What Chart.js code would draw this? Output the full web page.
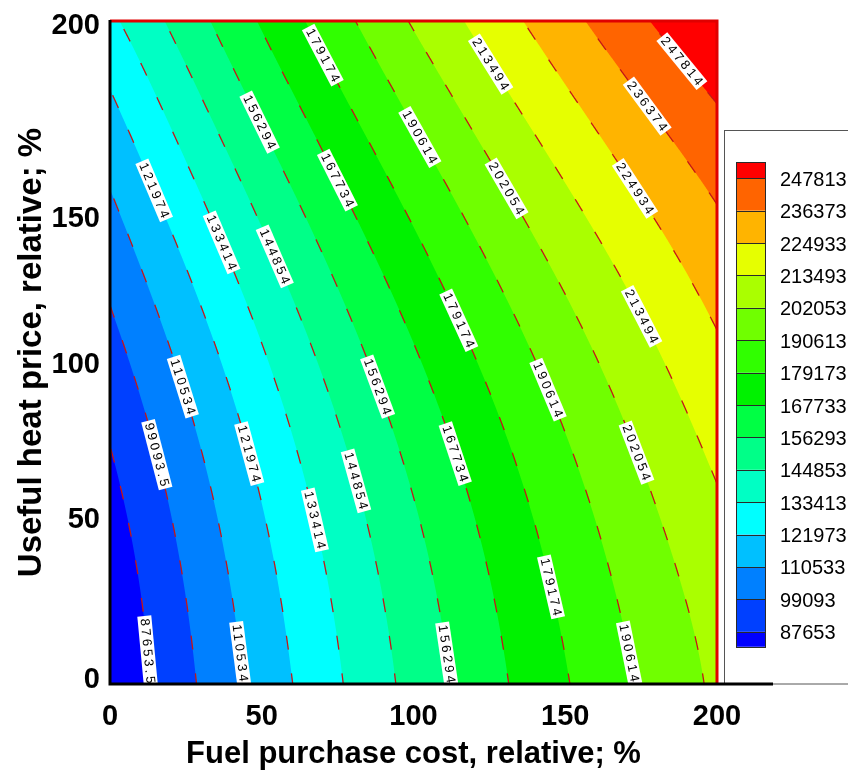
<!DOCTYPE html>
<html>
<head>
<meta charset="utf-8">
<script src="https://cdn.jsdelivr.net/npm/chart.js@4.4.1/dist/chart.umd.min.js"></script>
<style>
  html, body { margin: 0; padding: 0; background: #ffffff; }
  #wrap { width: 848px; height: 778px; }
</style>
</head>
<body>
<div id="wrap"><canvas id="chart" width="848" height="778"></canvas></div>
<script>
// Grid of the response surface: fuel purchase cost (x) and useful heat price (y), both in % of base
const fuelCost = [0, 50, 100, 150, 200];
const heatPrice = [0, 50, 100, 150, 200];

// Objective value at each grid node; one row per heat price, columns follow fuelCost
const valueRows = [
  [77500, 114756, 148582, 178320, 204100],
  [83000, 121167, 155100, 185224, 211300],
  [94950, 132607, 166889, 196844, 223100],
  [110800, 149299, 183584, 213085, 238200],
  [131000, 168892, 203149, 232729, 259700]
];

// Contour levels (low to high)
const contourLevels = [
  87653.5, 99093.5, 110533.5, 121973.5, 133413.5, 144853.5, 156293.5, 167733.5,
  179173.5, 190613.5, 202053.5, 213493.5, 224933.5, 236373.5, 247813.5
];

// Fill colour of each band, from below the first level to above the last one
const bandColors = [
  '#0000ff', '#0040ff', '#0080ff', '#00c0ff', '#00ffff', '#00ffc4', '#00ff88', '#00ff44',
  '#00f200', '#30ff00', '#70ff00', '#aaff00', '#e6ff00', '#ffb400', '#ff6400', '#ff0000'
];

// Axis ticks
const xTickValues = [0, 50, 100, 150, 200];
const xTickLabels = ['0', '50', '100', '150', '200'];
const yTickValues = [1.2, 49.5, 96.2, 140.3, 198.5];
const yTickLabels = ['0', '50', '100', '150', '200'];

// Inline contour labels: [level index, fuel cost, heat price]
const contourLabelSpots = [
  [8, 70.5, 189.7], [11, 125.5, 187.0], [14, 187.1, 187.9],
  [6, 50.1, 169.5], [9, 103.5, 165.0], [13, 175.9, 174.3],
  [3, 14.5, 148.9], [7, 76.4, 152.0], [10, 131.5, 149.5], [12, 172.7, 149.5],
  [4, 37.9, 133.2], [5, 57.0, 129.0],
  [8, 115.7, 109.7], [11, 175.0, 110.9],
  [2, 24.1, 89.7], [6, 88.0, 89.7], [9, 144.3, 88.8],
  [1, 15.5, 69.2], [3, 45.8, 69.5], [7, 113.7, 69.5], [10, 173.6, 69.8],
  [4, 67.2, 49.5], [5, 80.4, 61.3], [8, 145.3, 29.3],
  [0, 13.5, 10.0], [2, 43.5, 9.4], [6, 111.0, 9.1], [9, 171.0, 9.4]
];

const FONT = "'Liberation Sans', Arial, Helvetica, sans-serif";

// ---- surface evaluation (tensor-product Lagrange through the grid nodes) ----
function basis(nodes, t) {
  const out = [];
  for (let i = 0; i < nodes.length; i++) {
    let p = 1;
    for (let j = 0; j < nodes.length; j++) {
      if (j !== i) p *= (t - nodes[j]) / (nodes[i] - nodes[j]);
    }
    out.push(p);
  }
  return out;
}
function rowAt(y) {
  const w = basis(heatPrice, y);
  return fuelCost.map((_, i) => valueRows.reduce((s, r, j) => s + r[i] * w[j], 0));
}
function evalRow(row, x) {
  const w = basis(fuelCost, x);
  return row.reduce((s, v, i) => s + v * w[i], 0);
}
// Where the level crosses a horizontal line y (value rises with x)
function crossing(level, y) {
  const row = rowAt(y);
  const x0 = fuelCost[0], x1 = fuelCost[fuelCost.length - 1];
  if (evalRow(row, x0) >= level) return { x: x0, edge: -1, y };
  if (evalRow(row, x1) < level) return { x: x1, edge: 1, y };
  let lo = x0, hi = x1;
  for (let n = 0; n < 40; n++) {
    const m = (lo + hi) / 2;
    if (evalRow(row, m) < level) lo = m; else hi = m;
  }
  return { x: (lo + hi) / 2, edge: 0, y };
}

const heatSamples = [];
for (let i = 0; i <= 808; i++) heatSamples.push(-1 + i * 0.25);
const crossings = contourLevels.map(L => heatSamples.map(y => crossing(L, y)));

// ---- filled bands ----
const bandFill = {
  id: 'bandFill',
  beforeDatasetsDraw(chart) {
    const { ctx, chartArea: a, scales: { x: sx, y: sy } } = chart;
    ctx.save();
    ctx.beginPath();
    ctx.rect(a.left, a.top, a.right - a.left, a.bottom - a.top);
    ctx.clip();
    ctx.fillStyle = bandColors[0];
    ctx.fillRect(a.left, a.top, a.right - a.left, a.bottom - a.top);
    crossings.forEach((pts, k) => {
      ctx.beginPath();
      pts.forEach((c, i) => {
        const xv = c.edge < 0 ? -3 : c.edge > 0 ? 203 : c.x;
        const px = sx.getPixelForValue(xv), py = sy.getPixelForValue(c.y);
        if (i === 0) ctx.moveTo(px, py); else ctx.lineTo(px, py);
      });
      ctx.lineTo(sx.getPixelForValue(203), sy.getPixelForValue(201));
      ctx.lineTo(sx.getPixelForValue(203), sy.getPixelForValue(-1));
      ctx.closePath();
      ctx.fillStyle = bandColors[k + 1];
      ctx.fill();
    });
    ctx.restore();
  }
};

// ---- inline value labels on the contour lines ----
const contourLabels = {
  id: 'contourLabels',
  afterDatasetsDraw(chart) {
    const { ctx, chartArea: a, scales: { x: sx, y: sy } } = chart;
    ctx.save();
    ctx.beginPath();
    ctx.rect(a.left, a.top, a.right - a.left, a.bottom - a.top);
    ctx.clip();
    ctx.font = '13px ' + FONT;
    ctx.letterSpacing = '3px';
    ctx.textAlign = 'center';
    ctx.textBaseline = 'middle';
    contourLabelSpots.forEach(([k, gx, gy]) => {
      const L = contourLevels[k];
      const c = crossing(L, gy);
      if (c.edge !== 0) return;
      const up = crossing(L, gy + 3), dn = crossing(L, gy - 3);
      const px = sx.getPixelForValue(c.x), py = sy.getPixelForValue(gy);
      const ang = Math.atan2(sy.getPixelForValue(gy - 3) - sy.getPixelForValue(gy + 3),
                             sx.getPixelForValue(dn.x) - sx.getPixelForValue(up.x));
      const txt = L.toPrecision(6);
      const w = ctx.measureText(txt).width;
      ctx.save();
      ctx.translate(px, py);
      ctx.rotate(ang);
      ctx.fillStyle = '#ffffff';
      ctx.fillRect(-w / 2 - 1, -7, w + 2, 14);
      ctx.fillStyle = '#000000';
      ctx.fillText(txt, 1.5, 0.5);
      ctx.restore();
    });
    ctx.restore();
  }
};

// ---- frame, extended base line and level legend ----
const frameAndLegend = {
  id: 'frameAndLegend',
  afterDraw(chart) {
    const { ctx, chartArea: a } = chart;
    ctx.save();

    // legend panel
    const lgLeft = a.right + 7.5, lgTop = 130.5;
    ctx.strokeStyle = '#555555';
    ctx.lineWidth = 1;
    ctx.strokeRect(lgLeft, lgTop, 300, a.bottom - lgTop);

    const swLeft = a.right + 19.5, swW = 29;
    const firstEdge = 178.3, rowH = 32.39;
    const n = contourLevels.length;
    for (let b = 0; b <= n; b++) {
      // b = 0 is the top band (highest)
      const band = n - b;
      const top = b === 0 ? firstEdge - rowH / 2 : firstEdge + (b - 1) * rowH;
      const bot = b === n ? firstEdge + (n - 1) * rowH + 15 : firstEdge + b * rowH;
      ctx.fillStyle = bandColors[band];
      ctx.fillRect(swLeft, top, swW, bot - top);
      ctx.strokeStyle = '#2a2a2a';
      ctx.strokeRect(swLeft, Math.round(top) + 0.5, swW, Math.round(bot) - Math.round(top));
    }
    ctx.fillStyle = '#000000';
    ctx.font = '20px ' + FONT;
    ctx.textAlign = 'left';
    ctx.textBaseline = 'middle';
    for (let i = 0; i < n; i++) {
      const level = contourLevels[n - 1 - i];
      ctx.fillText(String(Math.floor(level)), a.right + 63, firstEdge + i * rowH + 2);
    }

    // plot frame: red top and right, black axes on the left and bottom
    ctx.lineWidth = 3;
    ctx.strokeStyle = '#e00000';
    ctx.beginPath();
    ctx.moveTo(a.left, a.top);
    ctx.lineTo(a.right, a.top);
    ctx.lineTo(a.right, a.bottom);
    ctx.stroke();
    ctx.strokeStyle = '#000000';
    ctx.beginPath();
    ctx.moveTo(a.left, a.top - 1);
    ctx.lineTo(a.left, a.bottom);
    ctx.lineTo(a.right + 56, a.bottom);
    ctx.stroke();
    ctx.restore();
  }
};

const lineDatasets = crossings.map((pts, k) => ({
  label: String(contourLevels[k]),
  data: pts.filter(c => c.edge === 0).map(c => ({ x: c.x, y: c.y })),
  showLine: true,
  fill: false,
  borderColor: '#c41616',
  borderWidth: 1.3,
  borderDash: [14, 24],
  pointRadius: 0,
  tension: 0
}));

new Chart(document.getElementById('chart'), {
  type: 'scatter',
  data: { datasets: lineDatasets },
  options: {
    responsive: false,
    animation: false,
    events: [],
    layout: { padding: { left: 0, top: 21, right: 131, bottom: 0 } },
    plugins: { legend: { display: false }, tooltip: { enabled: false } },
    scales: {
      x: {
        type: 'linear', min: 0, max: 200,
        afterBuildTicks: s => { s.ticks = xTickValues.map(v => ({ value: v })); },
        afterFit: s => { s.height = 94; s.paddingLeft = 0; s.paddingRight = 0; },
        grid: { display: false, drawTicks: false },
        border: { display: false },
        ticks: {
          callback: (v, i) => xTickLabels[i],
          autoSkip: false, maxRotation: 0, padding: 16,
          color: '#000000', font: { family: FONT, size: 29, weight: 'bold' }
        },
        title: {
          display: true, text: 'Fuel purchase cost, relative; %', color: '#000000',
          font: { family: FONT, size: 31, weight: 'bold' }, padding: { top: 0, bottom: 5 }
        }
      },
      y: {
        type: 'linear', min: 0, max: 200,
        afterBuildTicks: s => { s.ticks = yTickValues.map(v => ({ value: v })); },
        afterFit: s => { s.width = 110; s.paddingTop = 0; s.paddingBottom = 0; },
        grid: { display: false, drawTicks: false },
        border: { display: false },
        ticks: {
          callback: (v, i) => yTickLabels[i],
          autoSkip: false, padding: 10,
          color: '#000000', font: { family: FONT, size: 29, weight: 'bold' }
        },
        title: {
          display: true, text: 'Useful heat price, relative; %', color: '#000000',
          font: { family: FONT, size: 33, weight: 'bold' }, padding: { top: 12, bottom: 0 }
        }
      }
    }
  },
  plugins: [bandFill, contourLabels, frameAndLegend]
});
</script>
</body>
</html>
